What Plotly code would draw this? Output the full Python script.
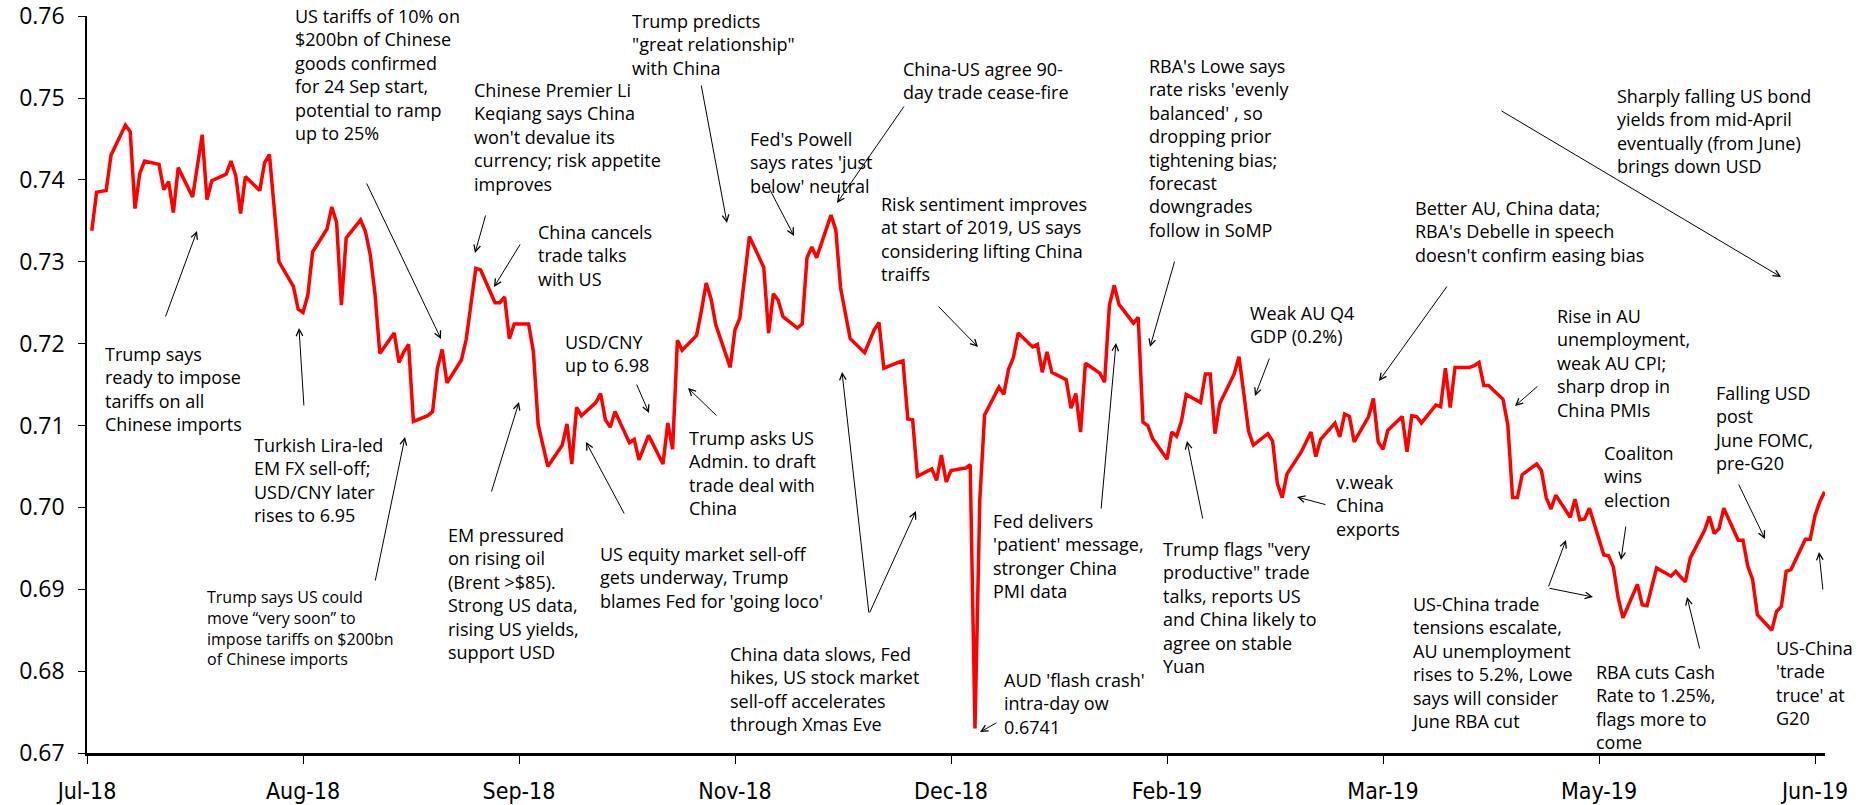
import pandas as pd
import plotly.graph_objects as go

# ---------------- DATA: AUD/USD daily (business days) ----------------
start_date = "2018-07-02"
end_date = "2019-06-28"

aud_q3_2018 = [
    0.7338, 0.7385, 0.7386, 0.7387, 0.7430,
    0.7467, 0.7459, 0.7365, 0.7408, 0.7423,
    0.7419, 0.7388, 0.7398, 0.7360, 0.7415,
    0.7379, 0.7417, 0.7455, 0.7376, 0.7399,
    0.7407, 0.7423, 0.7405, 0.7359, 0.7404,
    0.7387, 0.7421, 0.7431, 0.7366, 0.7300,
    0.7270, 0.7242, 0.7238, 0.7259, 0.7312,
    0.7340, 0.7367, 0.7348, 0.7247, 0.7329,
    0.7351, 0.7337, 0.7309, 0.7261, 0.7188,
    0.7213, 0.7177, 0.7190, 0.7199, 0.7105,
    0.7112, 0.7117, 0.7170, 0.7193, 0.7152,
    0.7180, 0.7205, 0.7245, 0.7292, 0.7290,
    0.7250, 0.7250, 0.7257, 0.7206, 0.7224,
]
aud_q4_2018 = [
    0.7224, 0.7190, 0.7101, 0.7075, 0.7050,
    0.7076, 0.7102, 0.7053, 0.7122, 0.7112,
    0.7128, 0.7139, 0.7107, 0.7098, 0.7117,
    0.7079, 0.7083, 0.7058, 0.7073, 0.7088,
    0.7053, 0.7103, 0.7071, 0.7204, 0.7192,
    0.7210, 0.7240, 0.7274, 0.7255, 0.7223,
    0.7171, 0.7217, 0.7231, 0.7280, 0.7331,
    0.7293, 0.7213, 0.7261, 0.7253, 0.7233,
    0.7219, 0.7224, 0.7305, 0.7318, 0.7305,
    0.7357, 0.7339, 0.7268, 0.7235, 0.7206,
    0.7189, 0.7203, 0.7217, 0.7226, 0.7170,
    0.7177, 0.7179, 0.7108, 0.7107, 0.7038,
    0.7047, 0.7033, 0.7064, 0.7031, 0.7045,
    0.7048,
]
aud_q1_2019 = [
    0.7052, 0.6730, 0.7009, 0.7113,
    0.7147, 0.7138, 0.7169, 0.7183, 0.7213,
    0.7196, 0.7199, 0.7165, 0.7190, 0.7165,
    0.7156, 0.7121, 0.7139, 0.7092, 0.7176,
    0.7164, 0.7153, 0.7247, 0.7271, 0.7248,
    0.7225, 0.7232, 0.7104, 0.7100, 0.7084,
    0.7059, 0.7092, 0.7087, 0.7105, 0.7138,
    0.7128, 0.7163, 0.7163, 0.7090, 0.7127,
    0.7163, 0.7184, 0.7139, 0.7093, 0.7076,
    0.7090, 0.7081, 0.7029, 0.7012, 0.7041,
    0.7068, 0.7080, 0.7092, 0.7062, 0.7083,
    0.7103, 0.7086, 0.7114, 0.7111, 0.7080,
    0.7111, 0.7133, 0.7080, 0.7071, 0.7094,
]
aud_q2_2019 = [
    0.7111, 0.7068, 0.7112, 0.7111, 0.7103,
    0.7125, 0.7123, 0.7170, 0.7122, 0.7171,
    0.7171, 0.7173, 0.7177, 0.7149, 0.7149,
    0.7132, 0.7101, 0.7012, 0.7012, 0.7040,
    0.7053, 0.7045, 0.7012, 0.6998, 0.7015,
    0.6988, 0.7010, 0.6985, 0.6986, 0.6999,
    0.6942, 0.6941, 0.6927, 0.6889, 0.6865,
    0.6906, 0.6881, 0.6880, 0.6903, 0.6926,
    0.6916, 0.6922, 0.6915, 0.6909, 0.6938,
    0.6972, 0.6989, 0.6968, 0.6974, 0.6999,
    0.6960, 0.6960, 0.6928, 0.6912, 0.6869,
    0.6850, 0.6873, 0.6879, 0.6922, 0.6924,
    0.6961, 0.6961, 0.6990, 0.7007, 0.7019,
]

tick_dates = ["2018-07-01", "2018-08-15", "2018-09-29", "2018-11-13", "2018-12-28",
              "2019-02-11", "2019-03-28", "2019-05-12", "2019-06-26"]
tick_labels = ["Jul-18", "Aug-18", "Sep-18", "Nov-18", "Dec-18",
               "Feb-19", "Mar-19", "May-19", "Jun-19"]
y_ticks = [0.67, 0.68, 0.69, 0.70, 0.71, 0.72, 0.73, 0.74, 0.75, 0.76]

dates = pd.bdate_range(start_date, end_date)
values = aud_q3_2018 + aud_q4_2018 + aud_q1_2019 + aud_q2_2019
assert len(dates) == len(values), (len(dates), len(values))

# ---------------- LAYOUT ----------------
W, H = 1874, 805
ML, MR, MT, MB = 87, 49, 16, 52
PW, PH = W - ML - MR, H - MT - MB


def paper(px, py):
    return (px - ML) / PW, (H - MB - py) / PH


FONT = "Open Sans, Noto Sans, sans-serif"
FS = 18

# text blocks: (text, left px, centre px, font size)
texts = [
    ("Trump says<br>ready to impose<br>tariffs on all<br>Chinese imports", 104, 389, FS),
    ("Turkish Lira-led<br>EM FX sell-off;<br>USD/CNY later<br>rises to 6.95", 253, 480, FS),
    ("Trump says US could<br>move “very soon” to<br>impose tariffs on $200bn<br>of Chinese imports", 206, 628, 16),
    ("US tariffs of 10% on<br>$200bn of Chinese<br>goods confirmed<br>for 24 Sep start,<br>potential to ramp<br>up to 25%", 294, 75, FS),
    ("Chinese Premier Li<br>Keqiang says China<br>won't devalue its<br>currency; risk appetite<br>improves", 473, 137, FS),
    ("China cancels<br>trade talks<br>with US", 537, 256, FS),
    ("EM pressured<br>on rising oil<br>(Brent >$85).<br>Strong US data,<br>rising US yields,<br>support USD", 447, 593, FS),
    ("USD/CNY<br>up to 6.98", 564, 353, FS),
    ("US equity market sell-off<br>gets underway, Trump<br>blames Fed for 'going loco'", 599, 577, FS),
    ("Trump asks US<br>Admin. to draft<br>trade deal with<br>China", 688, 473, FS),
    ("Trump predicts<br>\"great relationship\"<br>with China", 631, 44, FS),
    ("Fed's Powell<br>says rates 'just<br>below' neutral", 749, 162, FS),
    ("China-US agree 90-<br>day trade cease-fire", 902, 80, FS),
    ("China data slows, Fed<br>hikes, US stock market<br>sell-off accelerates<br>through Xmas Eve", 729, 689, FS),
    ("Risk sentiment improves<br>at start of 2019, US says<br>considering lifting China<br>traiffs", 880, 239, FS),
    ("AUD 'flash crash'<br>intra-day ow<br>0.6741", 1003, 703, FS),
    ("Fed delivers<br>'patient' message,<br>stronger China<br>PMI data", 992, 556, FS),
    ("RBA's Lowe says<br>rate risks 'evenly<br>balanced' , so<br>dropping prior<br>tightening bias;<br>forecast<br>downgrades<br>follow in SoMP", 1148, 148, FS),
    ("Weak AU Q4<br>GDP (0.2%)", 1249, 324, FS),
    ("Trump flags \"very<br>productive\" trade<br>talks, reports US<br>and China likely to<br>agree on stable<br>Yuan", 1162, 607, FS),
    ("v.weak<br>China<br>exports", 1335, 505, FS),
    ("Better AU, China data;<br>RBA's Debelle in speech<br>doesn't confirm easing bias", 1414, 231, FS),
    ("Sharply falling US bond<br>yields from mid-April<br>eventually (from June)<br>brings down USD", 1616, 131, FS),
    ("Rise in AU<br>unemployment,<br>weak AU CPI;<br>sharp drop in<br>China PMIs", 1556, 363, FS),
    ("Coaliton<br>wins<br>election", 1603, 476, FS),
    ("Falling USD<br>post<br>June FOMC,<br>pre-G20", 1713, 428, FS),
    ("US-China trade<br>tensions escalate,<br>AU unemployment<br>rises to 5.2%, Lowe<br>says will consider<br>June RBA cut", 1410, 662, FS),
    ("RBA cuts Cash<br>Rate to 1.25%,<br>flags more to<br>come", 1595, 707, FS),
    ("US-China<br>'trade<br>truce' at<br>G20", 1775, 683, FS),
]

# arrows: (tail px, head px)
arrows = [
    ((165, 318), (197, 231)),
    ((304, 407), (299, 328)),
    ((375, 582), (405, 437)),
    ((366, 182), (441, 339)),
    ((486, 214), (475, 253)),
    ((521, 243), (494, 287)),
    ((491, 493), (519, 402)),
    ((636, 383), (649, 413)),
    ((625, 515), (586, 442)),
    ((718, 417), (688, 388)),
    ((701, 84), (727, 223)),
    ((768, 186), (794, 236)),
    ((905, 105), (837, 203)),
    ((869, 614), (842, 372)),
    ((869, 614), (916, 511)),
    ((937, 305), (978, 347)),
    ((998, 722), (980, 732)),
    ((1101, 510), (1116, 343)),
    ((1175, 260), (1150, 347)),
    ((1270, 357), (1255, 396)),
    ((1203, 520), (1187, 441)),
    ((1327, 505), (1297, 497)),
    ((1448, 285), (1379, 381)),
    ((1500, 110), (1781, 277)),
    ((1539, 385), (1515, 406)),
    ((1626, 525), (1621, 560)),
    ((1738, 483), (1765, 539)),
    ((1548, 588), (1566, 540)),
    ((1548, 588), (1593, 597)),
    ((1700, 650), (1687, 597)),
    ((1823, 591), (1819, 552)),
]

fig = go.Figure()
fig.add_trace(go.Scatter(
    x=dates, y=values, mode="lines",
    line=dict(color="#FF0000", width=3.5),
    hoverinfo="skip", showlegend=False,
))

annotations = []
for txt, lx, cy, fs in texts:
    xp, yp = paper(lx, cy)
    annotations.append(dict(
        text=txt, x=xp, y=yp, xref="paper", yref="paper",
        xanchor="left", yanchor="middle", align="left", showarrow=False,
        borderpad=0, font=dict(family=FONT, size=fs, color="black"),
    ))
for (tx, ty), (hx, hy) in arrows:
    xp, yp = paper(hx, hy)
    annotations.append(dict(
        text="", x=xp, y=yp, xref="paper", yref="paper",
        ax=tx - hx, ay=ty - hy, axref="pixel", ayref="pixel",
        showarrow=True, arrowhead=5, arrowsize=1.3, arrowwidth=1,
        arrowcolor="black", standoff=0, startstandoff=0,
    ))

fig.update_layout(
    width=W, height=H, autosize=False,
    margin=dict(l=ML, r=MR, t=MT, b=MB, pad=0, autoexpand=False),
    paper_bgcolor="white", plot_bgcolor="white",
    showlegend=False,
    annotations=annotations,
    xaxis=dict(
        type="date", range=["2018-07-01", "2019-06-28 02:00"],
        tickmode="array", tickvals=tick_dates, ticktext=tick_labels,
        ticks="outside", ticklen=8, tickwidth=1, tickcolor="black",
        showline=True, linecolor="black", linewidth=2.5,
        showgrid=False, zeroline=False, automargin=False,
        tickfont=dict(family="Liberation Sans Narrow, DejaVu Sans Condensed, sans-serif", size=23, color="black"),
        ticklabelstandoff=8, ticklabeloverflow="allow",
    ),
    yaxis=dict(
        range=[0.67, 0.76002], tickmode="array", tickvals=y_ticks,
        tickformat=".2f",
        ticks="outside", ticklen=7, tickwidth=1, tickcolor="black",
        showline=True, linecolor="black", linewidth=1.5,
        showgrid=False, zeroline=False, automargin=False,
        tickfont=dict(family=FONT, size=23, color="black"),
        ticklabelstandoff=9, ticklabeloverflow="allow",
    ),
)

fig.write_html(
    "out.html",
    config={"displayModeBar": False},
    post_script="document.body.style.margin='0';document.body.style.overflow='hidden';",
)
